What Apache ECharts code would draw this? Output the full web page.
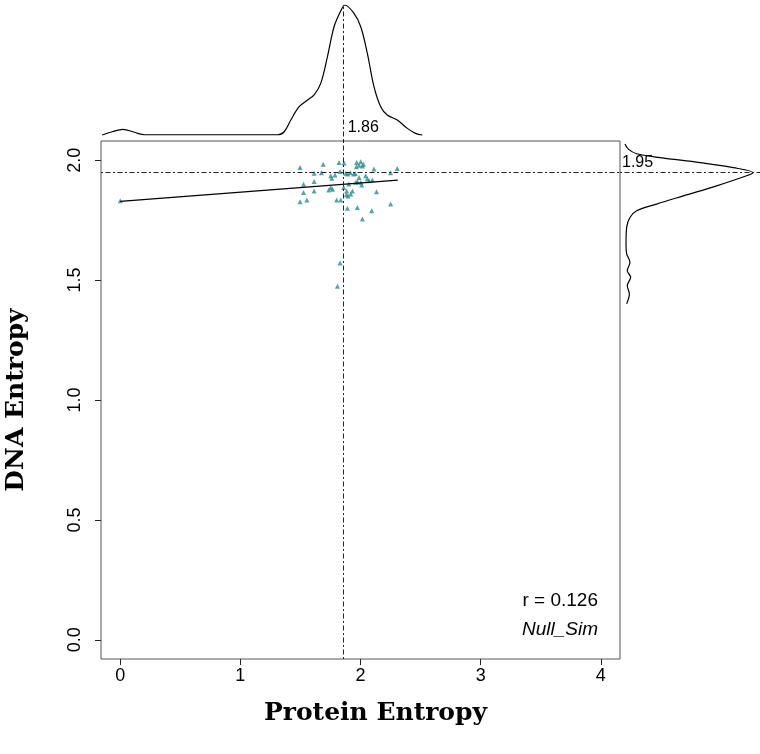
<!DOCTYPE html>
<html>
<head>
<meta charset="utf-8">
<script src="https://cdn.jsdelivr.net/npm/echarts/dist/echarts.min.js"></script>
<style>
  html, body { margin: 0; padding: 0; background: #fff; }
  #chart { width: 760px; height: 754px; }
</style>
</head>
<body>
<div id="chart"></div>
<script>
// scatter points
const proteinEntropy = [0.0,
  1.497, 1.689, 1.821, 1.863, 1.968, 2.002, 2.024, 1.988, 2.016, 1.966,
  2.112, 2.306, 2.251, 1.675, 1.614, 1.830, 1.877, 1.894, 1.916, 1.944, 1.957,
  1.788, 1.752, 1.761, 1.988, 2.043, 2.057, 2.099, 2.071, 2.002, 2.010, 1.960, 1.974,
  1.526, 1.614, 1.752, 1.736, 1.767, 1.860, 1.902, 1.885, 1.933, 1.919, 1.896, 1.883,
  1.526, 1.614, 1.497, 1.553, 1.802, 1.836, 2.133, 2.251, 1.891, 1.974, 2.093, 2.016,
  1.830, 1.808];
const dnaEntropy = [1.831,
  1.969, 1.983, 1.990, 1.988, 1.990, 1.993, 1.983, 1.979, 1.976, 1.973,
  1.963, 1.965, 1.948, 1.948, 1.946, 1.953, 1.946, 1.942, 1.948, 1.942, 1.944,
  1.938, 1.935, 1.925, 1.928, 1.935, 1.923, 1.917, 1.914, 1.907, 1.897, 1.907, 1.911,
  1.900, 1.911, 1.886, 1.876, 1.879, 1.886, 1.901, 1.872, 1.872, 1.859, 1.851, 1.856,
  1.865, 1.872, 1.827, 1.834, 1.834, 1.834, 1.868, 1.817, 1.800, 1.803, 1.789, 1.755,
  1.571, 1.474];

// fitted line ends
const fitProtein = [0, 2.31];
const fitDna = [1.828, 1.917];

// marginal densities (relative height)
const topDensX = [-0.15, -0.066, 0.022, 0.119, 0.202, 1.31, 1.365, 1.42, 1.489, 1.559, 1.614, 1.669,
  1.725, 1.78, 1.836, 1.869, 1.946, 2.002, 2.057, 2.112, 2.168, 2.223, 2.306, 2.39, 2.458, 2.514];
const topDensY = [0, 0.025, 0.044, 0.021, 0.002, 0.002, 0.025, 0.115, 0.218, 0.269, 0.308, 0.397,
  0.603, 0.833, 0.955, 1.0, 0.936, 0.833, 0.628, 0.372, 0.218, 0.154, 0.115, 0.051, 0.013, 0];

const rightDensY = [2.067, 2.046, 2.027, 2.011, 1.990, 1.969, 1.948, 1.935, 1.893, 1.851, 1.817,
  1.789, 1.761, 1.720, 1.651, 1.609, 1.574, 1.539, 1.512, 1.477, 1.442, 1.401];
const rightDensX = [0, 0.026, 0.091, 0.273, 0.586, 0.846, 1.0, 0.95, 0.716, 0.455, 0.247,
  0.091, 0.039, 0.013, 0.008, 0.013, 0.039, 0.018, 0.044, 0.018, 0.034, 0.013];

const xTicks = [0, 1, 2, 3, 4];
const yTicks = [0, 0.5, 1, 1.5, 2];
const medianProtein = 1.86;
const medianDna = 1.95;
const corrText = 'r = 0.126';
const simName = 'Null_Sim';

const tickFont = 'Liberation Sans';
const dashDot = { color: '#222', width: 1, type: [2, 2.5, 5, 2.5] };

const chart = echarts.init(document.getElementById('chart'));

const option = {
  animation: false,
  grid: [
    { left: 101, right: 140, top: 141, bottom: 95, show: true, borderColor: '#555', borderWidth: 1, outerBoundsMode: 'none', containLabel: false },
    { left: 101, right: 140, top: 5, height: 136, outerBoundsMode: 'none', containLabel: false },
    { left: 620, right: 0, top: 141, bottom: 95, outerBoundsMode: 'none', containLabel: false }
  ],
  xAxis: [
    {
      gridIndex: 0, type: 'value', min: -0.16, max: 4.16,
      name: 'Protein Entropy', nameLocation: 'middle', nameGap: 42,
      nameTextStyle: { fontFamily: 'DejaVu Serif', fontWeight: 'bold', fontSize: 25, color: '#000', padding: [0, 0, 0, 30] },
      axisLine: { show: false, onZero: false },
      axisTick: { show: true, inside: false, length: 6, customValues: xTicks, lineStyle: { color: '#222' } },
      axisLabel: { customValues: xTicks, margin: 8, fontFamily: tickFont, fontSize: 18, color: '#000' },
      splitLine: { show: false }
    },
    { gridIndex: 1, type: 'value', min: -0.16, max: 4.16, show: false },
    { gridIndex: 2, type: 'value', min: -0.039, max: 1.055, show: false }
  ],
  yAxis: [
    {
      gridIndex: 0, type: 'value', min: -0.08, max: 2.08,
      name: 'DNA Entropy', nameLocation: 'middle', nameGap: 72, nameRotate: 90,
      nameTextStyle: { fontFamily: 'DejaVu Serif', fontWeight: 'bold', fontSize: 25, color: '#000' },
      axisLine: { show: false, onZero: false },
      axisTick: { show: true, inside: false, length: 6, customValues: yTicks, lineStyle: { color: '#222' } },
      axisLabel: {
        customValues: yTicks, rotate: 90, margin: 17, fontFamily: tickFont, fontSize: 18, color: '#000',
        formatter: v => v.toFixed(1)
      },
      splitLine: { show: false }
    },
    { gridIndex: 1, type: 'value', min: -0.046, max: 1, show: false },
    { gridIndex: 2, type: 'value', min: -0.08, max: 2.08, show: false }
  ],
  series: [
    {
      type: 'line', xAxisIndex: 0, yAxisIndex: 0,
      data: fitProtein.map((x, i) => [x, fitDna[i]]),
      showSymbol: false, silent: true,
      lineStyle: { color: '#000', width: 1.3 },
      markLine: {
        silent: true, symbol: 'none', label: { show: false },
        lineStyle: dashDot,
        data: [{ xAxis: medianProtein }, { yAxis: medianDna }]
      }
    },
    {
      type: 'scatter', xAxisIndex: 0, yAxisIndex: 0,
      data: proteinEntropy.map((x, i) => [x, dnaEntropy[i]]),
      symbol: 'triangle', symbolSize: 5,
      itemStyle: { color: '#2a8c8c' }
    },
    {
      type: 'line', xAxisIndex: 1, yAxisIndex: 1,
      data: topDensX.map((x, i) => [x, topDensY[i]]),
      smooth: 0.35, showSymbol: false, silent: true,
      lineStyle: { color: '#000', width: 1.2 },
      markLine: {
        silent: true, symbol: 'none', label: { show: false },
        lineStyle: dashDot, data: [{ xAxis: medianProtein }]
      }
    },
    {
      type: 'line', xAxisIndex: 2, yAxisIndex: 2,
      data: rightDensY.map((y, i) => [rightDensX[i], y]),
      smooth: 0.35, showSymbol: false, silent: true,
      lineStyle: { color: '#000', width: 1.2 },
      markLine: {
        silent: true, symbol: 'none', label: { show: false },
        lineStyle: dashDot, data: [{ yAxis: medianDna }]
      }
    }
  ]
};

chart.setOption(option);

const pMed = chart.convertToPixel({ gridIndex: 0 }, [medianProtein, 2.08]);
const pDna = chart.convertToPixel({ gridIndex: 0 }, [4.16, medianDna]);
const pCorner = chart.convertToPixel({ gridIndex: 0 }, [4.16, -0.08]);

chart.setOption({
  graphic: [
    { type: 'text', x: pMed[0] + 4, y: pMed[1] - 5,
      style: { text: medianProtein.toFixed(2), font: '16px "Liberation Sans"', fill: '#000', align: 'left', verticalAlign: 'bottom' } },
    { type: 'text', x: pDna[0] + 2, y: pDna[1] - 2,
      style: { text: medianDna.toFixed(2), font: '16px "Liberation Sans"', fill: '#000', align: 'left', verticalAlign: 'bottom' } },
    { type: 'text', x: pCorner[0] - 22, y: pCorner[1] - 58,
      style: { text: corrText, font: '19px "Liberation Sans"', fill: '#000', align: 'right', verticalAlign: 'middle' } },
    { type: 'text', x: pCorner[0] - 22, y: pCorner[1] - 29,
      style: { text: simName, font: 'italic 19px "Liberation Sans"', fill: '#000', align: 'right', verticalAlign: 'middle' } }
  ]
});
</script>
</body>
</html>
